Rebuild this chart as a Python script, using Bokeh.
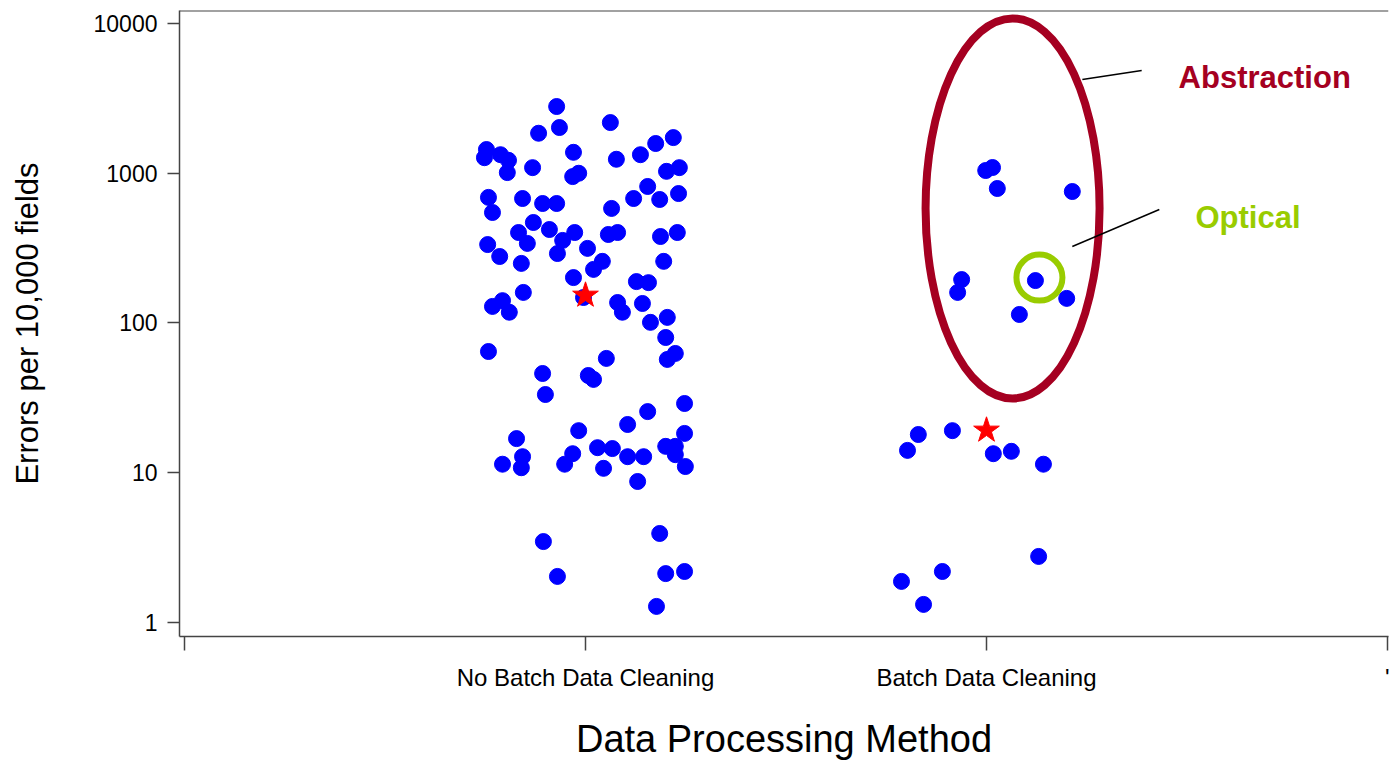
from bokeh.plotting import figure
from bokeh.models import Range1d, FixedTicker, NumeralTickFormatter, Span
from bokeh.core.properties import value
from bokeh.embed import file_html
from bokeh.resources import INLINE

# ---------------- data ----------------
categories = ["", "No Batch Data Cleaning", "Batch Data Cleaning", "'"]
cat_pos = [0, 1, 2, 3]

# No Batch Data Cleaning: jittered x position, errors per 10,000 fields
nobatch_x = [0.928, 1.062, 0.935, 0.883, 1.219, 1.175, 0.753, 0.748, 0.788, 0.808,
             0.805, 0.868, 0.970, 1.077, 1.137, 1.202, 1.234, 0.968, 0.983, 0.758,
             0.768, 0.843, 0.893, 0.928, 1.155, 1.120, 1.185, 1.232, 1.065, 0.870,
             0.910, 0.833, 0.855, 0.973, 0.943, 0.930, 1.005, 1.042, 1.020, 1.057,
             1.080, 1.187, 1.229, 0.756, 0.786, 0.840, 1.195, 0.970, 1.127, 1.157,
             0.845, 0.995, 0.793, 0.768, 0.810, 1.080, 1.092, 1.142, 1.162, 1.204,
             1.200, 1.224, 1.204, 0.758, 1.052, 0.893, 1.007, 1.020, 0.900, 1.247,
             1.155, 1.105, 0.983, 0.828, 1.247, 0.843, 0.793, 0.840, 0.968, 0.948,
             1.030, 1.067, 1.105, 1.145, 1.045, 1.130, 1.200, 1.224, 1.224, 1.249,
             0.895, 0.930, 1.185, 1.200, 1.247, 1.177]
nobatch_err = [2790, 2180, 2020, 1850, 1730, 1580, 1440, 1270, 1330, 1220,
               1010, 1090, 1380, 1240, 1330, 1030, 1090, 950, 1000, 690,
               547, 678, 628, 628, 816, 678, 668, 732, 582, 469,
               421, 402, 340, 402, 356, 291, 315, 258, 228, 390,
               402, 378, 402, 334, 278, 250, 258, 201, 189, 186,
               160, 148, 141, 129, 118, 137, 118, 135, 101, 109,
               80, 62.6, 57.1, 64.5, 58.0, 46.0, 44.6, 42.0, 33.3, 29.0,
               25.6, 21.0, 19.1, 16.9, 18.3, 12.8, 11.4, 10.8, 13.4, 11.4,
               14.7, 14.5, 12.8, 12.8, 10.7, 8.74, 15.0, 15.0, 13.2, 11.0,
               3.47, 2.03, 3.93, 2.12, 2.19, 1.28]

# Batch Data Cleaning
batch_x = [1.998, 2.015, 2.027, 2.214, 1.938, 1.928, 2.122, 2.200, 2.082,
           1.830, 1.803, 1.915, 2.017, 2.062, 2.142, 2.130, 1.890, 1.788, 1.843]
batch_err = [1043, 1092, 791, 755, 195, 160, 192, 146, 114,
             18.0, 14.1, 19.1, 13.4, 13.9, 11.4, 2.76, 2.19, 1.88, 1.32]

# group means (red stars)
mean_x = [1, 2]
mean_err = [153, 19.2]

y_ticks = [1, 10, 100, 1000, 10000]

# annotations
abstraction_center = (2.065, 582)
optical_center = (2.132, 201)
abstraction_line_x = [2.239, 2.387]
abstraction_line_y = [4230, 4856]
optical_line_x = [2.214, 2.431]
optical_line_y = [324, 573]
abstraction_text_pos = (2.479, 4360)
optical_text_pos = (2.521, 506)

# ---------------- figure ----------------
FONT = "Liberation Sans"
AXIS_COLOR = "#444444"
ABS_COLOR = "#A50021"
OPT_COLOR = "#99CC00"

p = figure(width=1389, height=764, y_axis_type="log",
           x_range=Range1d(-0.0125, 3.0025), y_range=Range1d(0.806, 12215),
           output_backend="svg", toolbar_location=None,
           min_border_left=179, min_border_right=1, min_border_top=10,
           min_border_bottom=128)
p.xgrid.visible = False
p.ygrid.visible = False
p.outline_line_color = None
p.background_fill_color = "white"
p.border_fill_color = "white"

# x axis
xa = p.xaxis[0]
xa.ticker = FixedTicker(ticks=cat_pos)
xa.major_label_overrides = {k: v for k, v in zip(cat_pos, categories)}
xa.major_tick_out = 14
xa.major_tick_in = 0
xa.minor_tick_line_color = None
xa.axis_line_color = AXIS_COLOR
xa.axis_line_width = 1.5
xa.major_tick_line_color = AXIS_COLOR
xa.major_tick_line_width = 1.5
xa.major_label_text_font = FONT
xa.major_label_text_font_size = "24px"
xa.major_label_text_color = "black"
xa.major_label_standoff = 13
xa.axis_label = "Data Processing Method"
xa.axis_label_text_font = FONT
xa.axis_label_text_font_size = "38px"
xa.axis_label_text_font_style = "normal"
xa.axis_label_text_color = "black"
xa.axis_label_standoff = 24

# y axis
ya = p.yaxis[0]
ya.ticker = FixedTicker(ticks=y_ticks, minor_ticks=[])
ya.formatter = NumeralTickFormatter(format="0")
ya.major_tick_out = 12
ya.major_tick_in = 0
ya.minor_tick_line_color = None
ya.axis_line_color = AXIS_COLOR
ya.axis_line_width = 1.5
ya.major_tick_line_color = AXIS_COLOR
ya.major_tick_line_width = 1.5
ya.major_label_text_font = FONT
ya.major_label_text_font_size = "23px"
ya.major_label_text_color = "black"
ya.major_label_standoff = 10
ya.axis_label = "Errors per 10,000 fields"
ya.axis_label_text_font = FONT
ya.axis_label_text_font_size = "31px"
ya.axis_label_text_font_style = "normal"
ya.axis_label_text_color = "black"
ya.axis_label_standoff = 46

# top border line
p.add_layout(Span(location=12215, dimension="width", line_color=AXIS_COLOR, line_width=2))

# points
p.scatter(nobatch_x, nobatch_err, size=16, marker="circle",
          fill_color="#0000FF", line_color="#0000FF")
p.scatter(batch_x, batch_err, size=16, marker="circle",
          fill_color="#0000FF", line_color="#0000FF")
p.scatter(mean_x, mean_err, size=27, marker="star",
          fill_color="#FF0000", line_color="#FF0000", line_width=1)

# annotations
p.ellipse(x=[abstraction_center[0]], y=[abstraction_center[1]], width=174, height=380,
          width_units="screen", height_units="screen",
          fill_color=None, line_color=ABS_COLOR, line_width=8)
p.scatter([optical_center[0]], [optical_center[1]], size=46, marker="circle",
          fill_color=None, line_color=OPT_COLOR, line_width=6)
p.line(abstraction_line_x, abstraction_line_y, line_color="black", line_width=1.5)
p.line(optical_line_x, optical_line_y, line_color="black", line_width=1.5)
p.text(x=[abstraction_text_pos[0]], y=[abstraction_text_pos[1]], text=["Abstraction"],
       text_font=value(FONT), text_font_style="bold", text_font_size="31px",
       text_color=ABS_COLOR, text_baseline="alphabetic", text_align="left")
p.text(x=[optical_text_pos[0]], y=[optical_text_pos[1]], text=["Optical"],
       text_font=value(FONT), text_font_style="bold", text_font_size="31px",
       text_color=OPT_COLOR, text_baseline="alphabetic", text_align="left")

open("out.html", "w").write(file_html(p, INLINE))
